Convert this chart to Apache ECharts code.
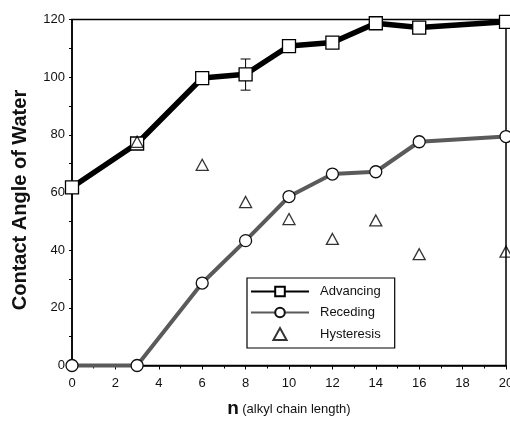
<!DOCTYPE html>
<html>
<head>
<meta charset="utf-8">
<script src="https://cdn.jsdelivr.net/npm/echarts@6/dist/echarts.min.js"></script>
<style>html,body{margin:0;padding:0;background:#fff}#c{width:510px;height:429px}</style>
</head>
<body>
<div id="c"></div>
<script>
const chainLength = [0, 3, 6, 8, 10, 12, 14, 16, 20];
const advancing = [61.8, 77, 99.7, 101, 110.8, 112, 118.7, 117.2, 119.2];
const receding = [0, 0, 28.6, 43.3, 58.6, 66.4, 67.2, 77.6, 79.4];
const hysteresisX = [3, 6, 8, 10, 12, 14, 16, 20];
const hysteresis = [77.6, 69.6, 56.7, 50.8, 43.9, 50.3, 38.6, 39.5];
const errorBars = [[8, 95.5, 106.3]];
const xTicks = [0, 2, 4, 6, 8, 10, 12, 14, 16, 18, 20];
const yTicks = [0, 20, 40, 60, 80, 100, 120];

const font = 'Liberation Sans, Arial, sans-serif';
const chart = echarts.init(document.getElementById('c'), null, {renderer: 'canvas'});
chart.setOption({
  animation: false,
  backgroundColor: '#fff',
  grid: {left: 72, right: 4, top: 19.5, bottom: 63.5, outerBoundsMode: 'none', containLabel: false,
    show: true, borderColor: '#000', borderWidth: 1.5, backgroundColor: 'transparent'},
  legend: {
    orient: 'vertical', left: 247, top: 278, width: 150,
    padding: [7, 14, 7, 3], itemGap: 8, itemWidth: 58, itemHeight: 12,
    borderColor: '#000', borderWidth: 1.2, backgroundColor: '#fff',
    textStyle: {fontFamily: font, fontSize: 13, color: '#111', padding: [0, 0, 0, 6]},
    data: ['Advancing', 'Receding', {name: 'Hysteresis', icon: 'path://M0,10L5.5,0L11,10Z'}]
  },
  xAxis: {
    type: 'value', min: xTicks[0], max: xTicks[xTicks.length - 1], interval: 2,
    name: '{b|n} {r|(alkyl chain length)}', nameLocation: 'middle', nameGap: 34,
    nameTextStyle: {rich: {b: {fontFamily: font, fontSize: 19, fontWeight: 'bold', color: '#111'}, r: {fontFamily: font, fontSize: 13, color: '#111'}}},
    axisLine: {onZero: false, lineStyle: {color: '#000', width: 1.5}},
    axisTick: {length: 4, lineStyle: {color: '#000', width: 1}},
    minorTick: {show: true, splitNumber: 2, length: 3, lineStyle: {color: '#000'}},
    splitLine: {show: false},
    axisLabel: {fontFamily: font, fontSize: 13, color: '#111', margin: 11}
  },
  yAxis: {
    type: 'value', min: yTicks[0], max: yTicks[yTicks.length - 1], interval: 20,
    name: 'Contact Angle of Water', nameLocation: 'middle', nameGap: 42,
    nameTextStyle: {fontFamily: font, fontSize: 20, fontWeight: 'bold', color: '#111', padding: [0, 15, 0, 0]},
    axisLine: {lineStyle: {color: '#000', width: 1.5}},
    axisTick: {length: 3, lineStyle: {color: '#000', width: 1}},
    minorTick: {show: true, splitNumber: 2, length: 3, lineStyle: {color: '#000'}},
    splitLine: {show: false},
    axisLabel: {fontFamily: font, fontSize: 13, color: '#111', margin: 7}
  },
  series: [
    {
      name: 'Receding', type: 'line', clip: false, z: 3,
      data: chainLength.map((x, i) => [x, receding[i]]),
      lineStyle: {color: '#5a5a5a', width: 4},
      symbol: 'circle', symbolSize: 12,
      itemStyle: {color: '#fff', borderColor: '#111', borderWidth: 1.3}
    },
    {
      name: 'Advancing', type: 'line', clip: false, z: 4,
      data: chainLength.map((x, i) => [x, advancing[i]]),
      lineStyle: {color: '#000', width: 5.5},
      symbol: 'rect', symbolSize: 13,
      itemStyle: {color: '#fff', borderColor: '#000', borderWidth: 1.3}
    },
    {
      name: 'Hysteresis', type: 'scatter', clip: false, z: 5,
      data: hysteresisX.map((x, i) => [x, hysteresis[i]]),
      symbol: 'triangle', symbolSize: [12, 11],
      itemStyle: {color: 'rgba(255,255,255,0)', borderColor: '#000', borderWidth: 1.3}
    },
    {
      type: 'custom', z: 2, silent: true,
      data: errorBars,
      renderItem: function (params, api) {
        const x = api.value(0);
        const lo = api.coord([x, api.value(1)]);
        const hi = api.coord([x, api.value(2)]);
        const hw = 5;
        const st = {stroke: '#000', lineWidth: 1};
        return {type: 'group', children: [
          {type: 'line', shape: {x1: lo[0], y1: lo[1], x2: hi[0], y2: hi[1]}, style: st},
          {type: 'line', shape: {x1: lo[0] - hw, y1: lo[1], x2: lo[0] + hw, y2: lo[1]}, style: st},
          {type: 'line', shape: {x1: hi[0] - hw, y1: hi[1], x2: hi[0] + hw, y2: hi[1]}, style: st}
        ]};
      }
    }
  ]
});
</script>
</body>
</html>
